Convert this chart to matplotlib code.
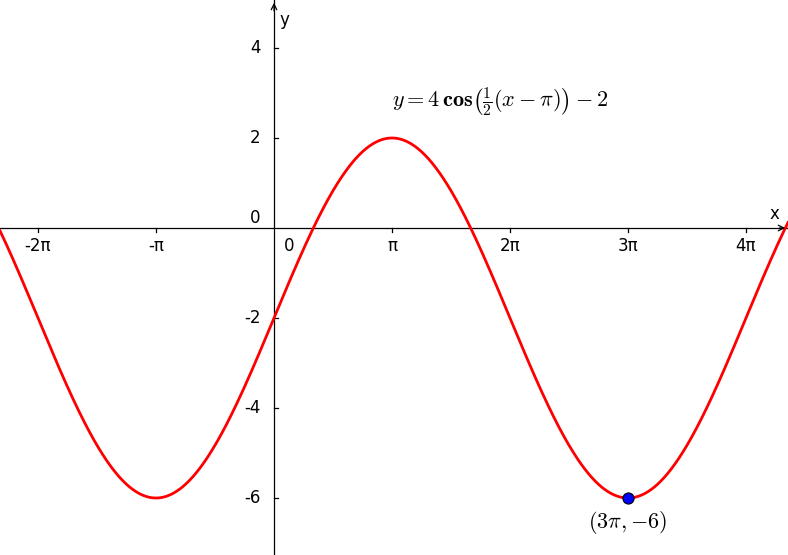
import numpy as np
import matplotlib
matplotlib.use("Agg")
import matplotlib.pyplot as plt

plt.rcParams['mathtext.fontset'] = 'cm'

amp, k, shift, vshift = 4, 0.5, np.pi, -2
xticks = [-2*np.pi, -np.pi, np.pi, 2*np.pi, 3*np.pi, 4*np.pi]
xlabels = ['-2π', '-π', 'π', '2π', '3π', '4π']
yticks = [-6, -4, -2, 2, 4]
point = (3*np.pi, -6)

fig = plt.figure(figsize=(7.88, 5.55), dpi=100)
ax = fig.add_axes([0, 0, 1, 1])
xmin, xmax = -274/118*np.pi, 514/118*np.pi
ymin, ymax = -327/45, 228/45
ax.set_xlim(xmin, xmax); ax.set_ylim(ymin, ymax)
ax.axis('off')

ax.plot([xmin, xmax], [0, 0], color='black', lw=0.9)
ax.plot([0, 0], [ymin, ymax], color='black', lw=0.9)
ax.annotate('', xy=(xmax, 0), xytext=(xmax-0.3, 0),
            arrowprops=dict(arrowstyle='->', lw=0.9, color='black'))
ax.annotate('', xy=(0, ymax), xytext=(0, ymax-0.3),
            arrowprops=dict(arrowstyle='->', lw=0.9, color='black'))

for t, l in zip(xticks, xlabels):
    ax.plot([t, t], [0, -0.09], color='black', lw=0.9)
    ax.text(t, -0.2, l, ha='center', va='top', fontsize=12)
for t in yticks:
    ax.plot([0, 0.1], [t, t], color='black', lw=0.9)
    ax.text(-0.35, t, str(t), ha='right', va='center', fontsize=12)
ax.text(-0.35, 0.22, '0', ha='right', va='center', fontsize=12)
ax.text(0.25, -0.2, '0', ha='left', va='top', fontsize=12)
ax.text(xmax-0.35, 0.12, 'x', ha='center', va='bottom', fontsize=12)
ax.text(0.15, ymax-0.25, 'y', ha='left', va='top', fontsize=12)

x = np.linspace(xmin, xmax, 1000)
y = amp*np.cos(k*(x-shift)) + vshift
ax.plot(x, y, color='#ff0000', lw=2)
ax.plot(*point, 'o', ms=8, mfc='#0000ff', mec='black', mew=0.8)
ax.text(point[0], point[1]-0.25, r'$(\mathbf{3}\pi, \mathbf{-6})$', ha='center', va='top', fontsize=16)
ax.text(0.86*np.pi+0.45, 2.82,
        r'$y = \mathbf{4}\,\mathbf{cos}\left(\frac{\mathbf{1}}{\mathbf{2}}(x-\pi)\right)-\mathbf{2}$',
        ha='left', va='center', fontsize=16)

fig.savefig('out.png', dpi=100)
